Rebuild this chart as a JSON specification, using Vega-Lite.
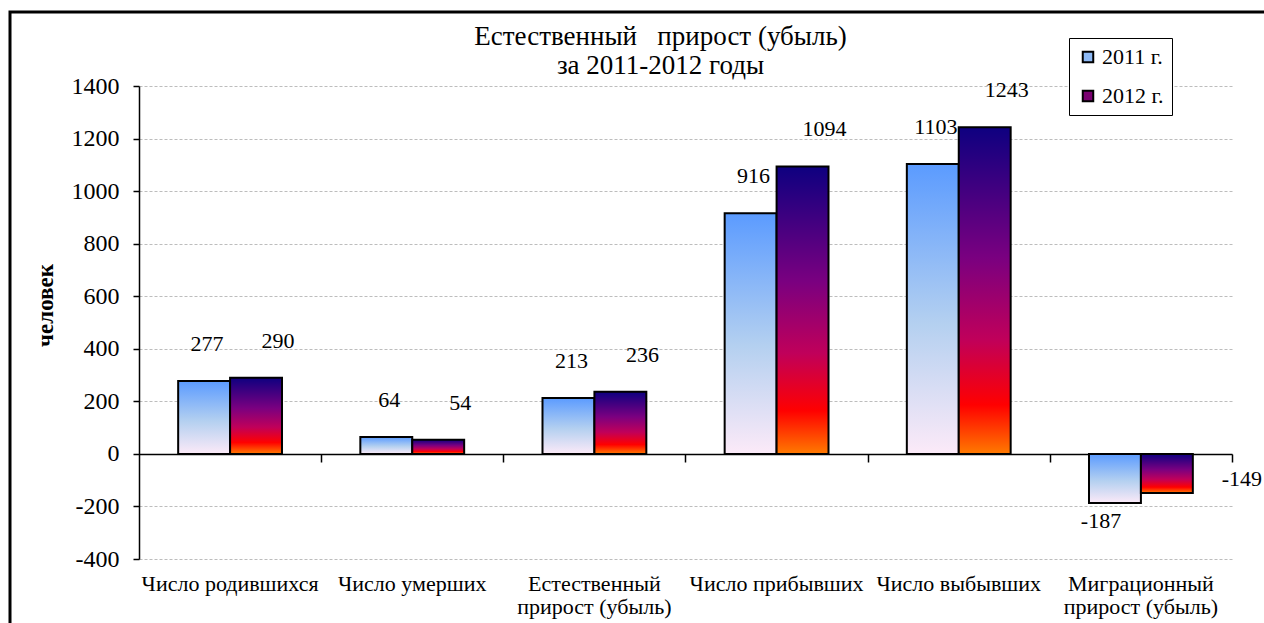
{
  "$schema": "https://vega.github.io/schema/vega-lite/v6.json",
  "width": 1257,
  "height": 614,
  "autosize": {"type": "none"},
  "padding": {"left": 10, "top": 12, "right": -3, "bottom": -3},
  "background": "white",
  "config": {
    "view": {"stroke": "black", "strokeWidth": 3},
    "font": "Liberation Serif, Times New Roman, serif",
    "locale": {"number": {"decimal": ".", "thousands": "", "grouping": [3], "currency": ["", ""], "minus": "-"}},
    "axis": {"labelFont": "Liberation Serif, Times New Roman, serif", "labelFontSize": 22, "labelColor": "black", "titleFont": "Liberation Serif, Times New Roman, serif", "titleColor": "black"}
  },
  "title": {
    "text": ["Естественный\u00a0\u00a0 прирост (убыль)", "за 2011-2012 годы"],
    "anchor": "middle",
    "frame": "group",
    "offset": -68,
    "dx": 22,
    "fontSize": 27,
    "fontWeight": "normal",
    "font": "Liberation Serif, Times New Roman, serif",
    "color": "black",
    "lineHeight": 29
  },
  "data": {
    "values": [
      {"category": "Число родившихся", "year": "2011 г.", "value": 277},
      {"category": "Число родившихся", "year": "2012 г.", "value": 290},
      {"category": "Число умерших", "year": "2011 г.", "value": 64},
      {"category": "Число умерших", "year": "2012 г.", "value": 54},
      {"category": "Естественный прирост (убыль)", "year": "2011 г.", "value": 213},
      {"category": "Естественный прирост (убыль)", "year": "2012 г.", "value": 236},
      {"category": "Число прибывших", "year": "2011 г.", "value": 916},
      {"category": "Число прибывших", "year": "2012 г.", "value": 1094},
      {"category": "Число выбывших", "year": "2011 г.", "value": 1103},
      {"category": "Число выбывших", "year": "2012 г.", "value": 1243},
      {"category": "Миграционный прирост (убыль)", "year": "2011 г.", "value": -187},
      {"category": "Миграционный прирост (убыль)", "year": "2012 г.", "value": -149}
    ]
  },
  "encoding": {
    "y": {
      "field": "value", "type": "quantitative",
      "scale": {"domain": [-400, 1400], "range": [547, 74], "nice": false, "zero": false},
      "axis": {
        "values": [-400, -200, 0, 200, 400, 600, 800, 1000, 1200, 1400],
        "offset": -129, "domainColor": "black", "domainWidth": 1.5,
        "tickColor": "black", "tickSize": 6, "tickWidth": 1.5, "labelPadding": 14, "labelFontSize": 24,
        "grid": true, "gridColor": "#BDBDBD", "gridDash": [3, 2], "gridWidth": 1,
        "title": "человек", "titleFontSize": 23, "titleFontWeight": "bold",
        "titleAngle": -90, "titleX": -94, "titleY": 293, "titleAlign": "center", "titleBaseline": "middle"
      }
    },
    "xOffset": {"field": "year", "type": "nominal", "scale": {"domain": ["2011 г.", "2012 г."], "paddingInner": 0}}
  },
  "layer": [
    {
      "transform": [{"filter": "datum.year == '2011 г.'"}],
      "mark": {
        "type": "bar", "stroke": "black", "strokeWidth": 2,
        "fill": {"gradient": "linear", "x1": 0, "y1": 0, "x2": 0, "y2": 1, "stops": [
          {"offset": 0, "color": "#5B9BFF"},
          {"offset": 0.55, "color": "#B4D0F0"},
          {"offset": 1, "color": "#FCEAF8"}
        ]}
      },
      "encoding": {
        "x": {
          "field": "category", "type": "nominal", "sort": null,
          "scale": {"range": [129, 1222], "paddingInner": 0.43, "paddingOuter": 0.215},
          "axis": {
            "orient": "bottom", "offset": -67, "domain": false, "ticks": false, "grid": false,
            "labelPadding": 14, "labelAngle": 0, "labelLimit": 300, "labelLineHeight": 23,
            "labelOverlap": false, "labelBound": false, "labelBaseline": "top",
            "labelExpr": "indexof(datum.label, ' прирост') > 0 ? [substring(datum.label, 0, indexof(datum.label, ' прирост')), substring(datum.label, indexof(datum.label, ' прирост') + 1)] : datum.label",
            "title": null
          }
        }
      }
    },
    {
      "transform": [{"filter": "datum.year == '2012 г.'"}],
      "mark": {
        "type": "bar", "stroke": "black", "strokeWidth": 2,
        "fill": {"gradient": "linear", "x1": 0, "y1": 0, "x2": 0, "y2": 1, "stops": [
          {"offset": 0, "color": "#0E0080"},
          {"offset": 0.4, "color": "#7A0080"},
          {"offset": 0.65, "color": "#C0005A"},
          {"offset": 0.85, "color": "#FF0000"},
          {"offset": 1, "color": "#FF7A00"}
        ]}
      },
      "encoding": {
        "x": {"field": "category", "type": "nominal", "sort": null, "axis": null}
      }
    },
    {
      "transform": [{"filter": "datum.value > 100000"}],
      "mark": {"type": "square", "stroke": "black", "strokeWidth": 2, "filled": true},
      "encoding": {
        "x": {"field": "category", "type": "nominal", "sort": null, "axis": null},
        "fill": {
          "field": "year", "type": "nominal",
          "scale": {"domain": ["2011 г.", "2012 г."], "range": ["#8DB9F5", "#7A0070"]},
          "legend": {
            "orient": "none", "legendX": 1059, "legendY": 26, "title": null,
            "strokeColor": "black", "fillColor": "white", "padding": 8,
            "symbolType": "square", "symbolSize": 110, "symbolStrokeColor": "black", "symbolStrokeWidth": 2,
            "symbolOpacity": 1,
            "labelFont": "Liberation Serif, Times New Roman, serif", "labelFontSize": 22, "labelColor": "black",
            "rowPadding": 17, "labelOffset": 3
          }
        }
      }
    },
    {
      "mark": {
        "type": "text", "font": "Liberation Serif, Times New Roman, serif", "fontSize": 22, "color": "black", "baseline": "middle",
        "dx": {"expr": "datum.year == '2011 г.' ? (datum.value < 0 ? -14 : 3) : (datum.value < 0 ? 75 : 22)"},
        "dy": {"expr": "datum.value < 0 ? (datum.year == '2011 г.' ? 18 : -14) : -37"}
      },
      "encoding": {
        "x": {
          "field": "category", "type": "nominal", "sort": null,
          "axis": {
            "orient": "bottom", "offset": -172, "labels": false, "grid": false,
            "domain": true, "domainColor": "black", "domainWidth": 1.5,
            "ticks": true, "tickColor": "black", "tickSize": 8, "tickWidth": 1.5, "tickOffset": 91,
            "title": null
          }
        },
        "text": {"field": "value", "type": "quantitative"}
      }
    }
  ],
  "resolve": {"axis": {"x": "independent"}}
}
